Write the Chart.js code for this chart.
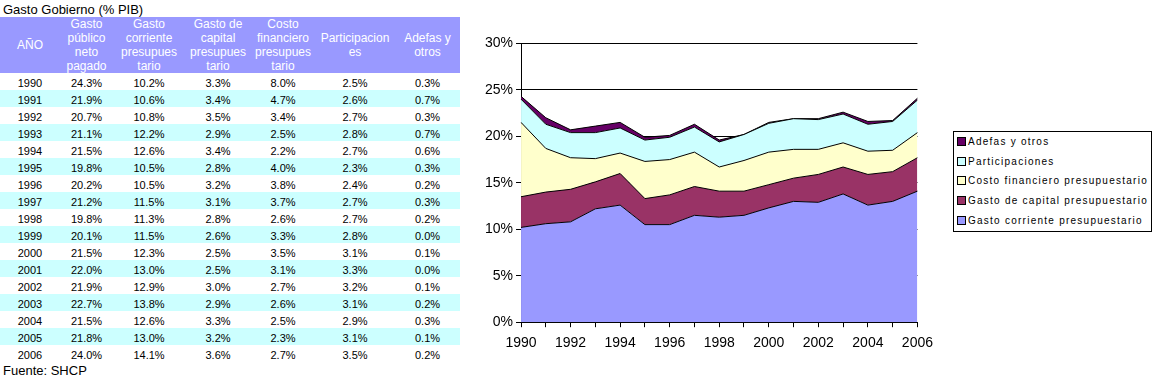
<!DOCTYPE html>
<html>
<head>
<meta charset="utf-8">
<script src="https://cdn.jsdelivr.net/npm/chart.js@4"></script>
<style>
  body { margin: 0; background: #fff; font-family: 'Liberation Sans', Arial, sans-serif; }
  #wrap { position: relative; width: 1161px; height: 387px; overflow: hidden; }
  #title { position: absolute; left: 3px; top: 2px; font-size: 13px; color: #000; }
  #tbl { position: absolute; left: 0; top: 17px; border-collapse: collapse; table-layout: fixed; width: 460px; font-size: 11px; }
  #tbl th { background: #9999ff; color: #fff; font-weight: normal; font-size: 12px; line-height: 14px; padding: 0; height: 56px; text-align: center; vertical-align: middle; }
  #tbl td { height: 14px; padding: 3px 0 0 0; text-align: center; color: #000; line-height: 14px; }
  #tbl tr.alt td { background: #ccffff; }
  #source { position: absolute; left: 3px; top: 363px; font-size: 13px; }
  #chartBox { position: absolute; left: 482px; top: 32px; width: 459px; height: 328px; }
  #legend { position: absolute; left: 953px; top: 131px; width: 197px; height: 99px; border: 1px solid #000; font-size: 10px; letter-spacing: 1.25px; }
  #legend div { position: absolute; left: 3px; height: 12px; line-height: 12px; white-space: nowrap; }
  #legend span.sw { display: inline-block; width: 7px; height: 7px; border: 1px solid #000; margin-right: 2px; vertical-align: -1px; }
</style>
</head>
<body>
<div id="wrap">
  <div id="title">Gasto Gobierno (% PIB)</div>
  <table id="tbl">
    <colgroup>
      <col style="width:60px"><col style="width:53px"><col style="width:72px"><col style="width:66px"><col style="width:64px"><col style="width:80px"><col style="width:65px">
    </colgroup>
    <thead>
      <tr>
        <th>AÑO</th>
        <th>Gasto<br>público<br>neto<br>pagado</th>
        <th>Gasto<br>corriente<br>presupues<br>tario</th>
        <th>Gasto de<br>capital<br>presupues<br>tario</th>
        <th>Costo<br>financiero<br>presupues<br>tario</th>
        <th>Participacion<br>es</th>
        <th>Adefas y<br>otros</th>
      </tr>
    </thead>
    <tbody id="rows"></tbody>
  </table>
  <div id="source">Fuente: SHCP</div>
  <div id="chartBox"><canvas id="areaChart"></canvas></div>
  <div id="legend"></div>
</div>
<script>
// Gasto Gobierno (% PIB) - data from the table
const years = ['1990','1991','1992','1993','1994','1995','1996','1997','1998','1999','2000','2001','2002','2003','2004','2005','2006'];
const gastoNeto = [24.3, 21.9, 20.7, 21.1, 21.5, 19.8, 20.2, 21.2, 19.8, 20.1, 21.5, 22.0, 21.9, 22.7, 21.5, 21.8, 24.0];
const gastoCorriente = [10.2, 10.6, 10.8, 12.2, 12.6, 10.5, 10.5, 11.5, 11.3, 11.5, 12.3, 13.0, 12.9, 13.8, 12.6, 13.0, 14.1];
const gastoCapital = [3.3, 3.4, 3.5, 2.9, 3.4, 2.8, 3.2, 3.1, 2.8, 2.6, 2.5, 2.5, 3.0, 2.9, 3.3, 3.2, 3.6];
const costoFinanciero = [8.0, 4.7, 3.4, 2.5, 2.2, 4.0, 3.8, 3.7, 2.6, 3.3, 3.5, 3.1, 2.7, 2.6, 2.5, 2.3, 2.7];
const participaciones = [2.5, 2.6, 2.7, 2.8, 2.7, 2.3, 2.4, 2.7, 2.7, 2.8, 3.1, 3.3, 3.2, 3.1, 2.9, 3.1, 3.5];
const adefas = [0.3, 0.7, 0.3, 0.7, 0.6, 0.3, 0.2, 0.3, 0.2, 0.0, 0.1, 0.0, 0.1, 0.2, 0.3, 0.1, 0.2];
const yTicks = [0, 5, 10, 15, 20, 25, 30];

// build table rows
const tbody = document.getElementById('rows');
years.forEach((y, i) => {
  const tr = document.createElement('tr');
  if (i % 2 === 1) tr.className = 'alt';
  const cells = [y, gastoNeto[i], gastoCorriente[i], gastoCapital[i], costoFinanciero[i], participaciones[i], adefas[i]];
  cells.forEach((c, j) => {
    const td = document.createElement('td');
    td.textContent = j === 0 ? c : c.toFixed(1) + '%';
    tr.appendChild(td);
  });
  tbody.appendChild(tr);
});

const series = [
  { label: 'Gasto corriente presupuestario', data: gastoCorriente, color: '#9999ff' },
  { label: 'Gasto de capital presupuestario', data: gastoCapital, color: '#993366' },
  { label: 'Costo financiero presupuestario', data: costoFinanciero, color: '#ffffcc' },
  { label: 'Participaciones', data: participaciones, color: '#ccffff' },
  { label: 'Adefas y otros', data: adefas, color: '#660066' }
];

// legend (reverse order, like the original)
const legend = document.getElementById('legend');
series.slice().reverse().forEach((s, i) => {
  const d = document.createElement('div');
  d.style.top = (4 + i * 19.7) + 'px';
  d.innerHTML = '<span class="sw" style="background:' + s.color + '"></span>' + s.label;
  legend.appendChild(d);
});

const font = { family: "'Liberation Sans', Arial, sans-serif", size: 14 };

new Chart(document.getElementById('areaChart'), {
  type: 'line',
  data: {
    labels: years,
    datasets: series.map((s, i) => ({
      label: s.label,
      data: s.data,
      backgroundColor: s.color,
      borderColor: '#000',
      borderWidth: 1,
      pointRadius: 0,
      tension: 0,
      fill: i === 0 ? 'origin' : '-1'
    }))
  },
  options: {
    responsive: true,
    maintainAspectRatio: false,
    animation: false,
    layout: { padding: { top: 0, right: 14, left: 0, bottom: 0 } },
    plugins: { legend: { display: false }, tooltip: { enabled: false } },
    scales: {
      x: {
        offset: false,
        grid: { drawOnChartArea: false, color: '#000', tickLength: 5 },
        border: { color: '#000' },
        ticks: {
          color: '#000', font: font, autoSkip: false, maxRotation: 0, padding: 8,
          callback: (v, i) => (i % 2 === 0 ? years[i] : '')
        }
      },
      y: {
        stacked: true,
        min: 0, max: 30,
        afterBuildTicks: (axis) => { axis.ticks = yTicks.map(v => ({ value: v })); },
        grid: { color: '#000', tickLength: 5 },
        border: { color: '#000' },
        ticks: { color: '#000', font: font, padding: 3, callback: v => v + '%' }
      }
    }
  }
});
</script>
</body>
</html>
